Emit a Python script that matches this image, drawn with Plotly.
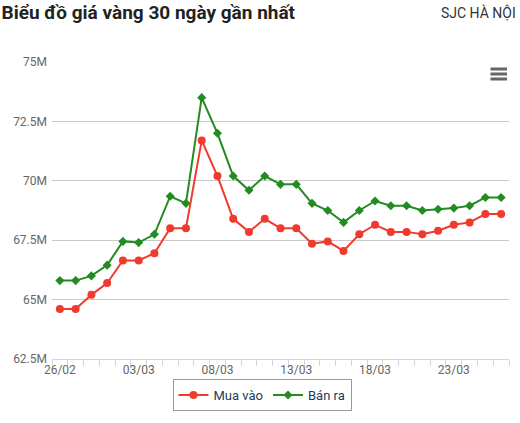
import plotly.graph_objects as go

dates = ["26/02", "27/02", "28/02", "01/03", "02/03", "03/03", "04/03", "05/03", "06/03", "07/03",
         "08/03", "09/03", "10/03", "11/03", "12/03", "13/03", "14/03", "15/03", "16/03", "17/03",
         "18/03", "19/03", "20/03", "21/03", "22/03", "23/03", "24/03", "25/03", "26/03"]
mua_vao = [64.60, 64.60, 65.20, 65.70, 66.65, 66.65, 66.95, 68.00, 68.00, 71.70,
           70.20, 68.40, 67.85, 68.40, 68.00, 68.00, 67.35, 67.45, 67.05, 67.75,
           68.15, 67.85, 67.85, 67.75, 67.90, 68.15, 68.25, 68.60, 68.60]
ban_ra = [65.80, 65.80, 66.00, 66.45, 67.45, 67.40, 67.75, 69.35, 69.05, 73.50,
          72.00, 70.20, 69.60, 70.20, 69.85, 69.85, 69.05, 68.75, 68.25, 68.75,
          69.15, 68.95, 68.95, 68.75, 68.80, 68.85, 68.95, 69.30, 69.30]
y_ticks = [62.5, 65, 67.5, 70, 72.5, 75]
y_tick_text = ["62.5M", "65M", "67.5M", "70M", "72.5M", "75M"]

RED = "#f03a2e"
GREEN = "#228b22"

idx = list(range(len(dates)))

fig = go.Figure()
fig.add_trace(go.Scatter(
    x=idx, y=mua_vao, name="Mua vào", mode="lines+markers",
    line=dict(color=RED, width=2),
    marker=dict(symbol="circle", size=8, color=RED),
    customdata=dates, hovertemplate="%{customdata}: %{y}M<extra>Mua vào</extra>",
))
fig.add_trace(go.Scatter(
    x=idx, y=ban_ra, name="Bán ra", mode="lines+markers",
    line=dict(color=GREEN, width=2),
    marker=dict(symbol="diamond", size=7, color=GREEN),
    customdata=dates, hovertemplate="%{customdata}: %{y}M<extra>Bán ra</extra>",
))

W, H = 520, 423
L, R, T, B = 52, 11, 62, 64
pw, ph = W - L - R, H - T - B


def px_x(p):
    return (p - L) / pw


def px_y(p):
    return (H - B - p) / ph


shapes = []
for yy in (69, 74, 79):
    shapes.append(dict(type="line", xref="paper", yref="paper",
                       x0=px_x(490.5), x1=px_x(507), y0=px_y(yy), y1=px_y(yy),
                       line=dict(color="#666666", width=3)))

fig.update_layout(
    width=W, height=H,
    margin=dict(l=L, r=R, t=T, b=B),
    paper_bgcolor="white", plot_bgcolor="white",
    font=dict(family="Roboto", size=12, color="#666666"),
    title=dict(text="Biểu đồ giá vàng 30 ngày gần nhất", xref="container", yref="container",
               x=0.003, xanchor="left", y=1 - 12 / H, yanchor="middle",
               font=dict(family="Roboto", size=19, color="#222222", weight=700)),
    annotations=[dict(text="SJC HÀ NỘI", xref="paper", yref="paper",
                      x=px_x(518), xanchor="right", y=px_y(12), yanchor="middle",
                      showarrow=False, font=dict(family="Roboto", size=14, color="#333333"))],
    shapes=shapes,
    showlegend=True,
    legend=dict(orientation="h", x=px_x(262), xanchor="center", y=px_y(395), yanchor="middle",
                font=dict(family="Roboto", size=13, color="#1f3b5c"),
                bordercolor="#999999", borderwidth=1, bgcolor="white"),
    xaxis=dict(range=[-0.5, len(dates) - 0.5], tickmode="array",
               tickvals=idx[::5], ticktext=dates[::5], ticks="",
               showgrid=False, zeroline=False,
               showline=True, linecolor="#ccd6eb", linewidth=1,
               tickfont=dict(size=12, color="#666666"),
               minor=dict(tickmode="linear", tick0=-0.5, dtick=1, ticks="outside",
                          ticklen=6, tickcolor="#ccd6eb", showgrid=False)),
    yaxis=dict(range=[62.5, 75], tickmode="array", tickvals=y_ticks, ticktext=y_tick_text,
               showgrid=True, gridcolor="#c8c8c8", gridwidth=1, zeroline=False,
               showline=False, ticks="", ticklabelstandoff=4,
               tickfont=dict(size=12, color="#666666")),
)

fig.write_html("out.html", config={"displayModeBar": False},
               post_script="document.body.style.margin='0';")
